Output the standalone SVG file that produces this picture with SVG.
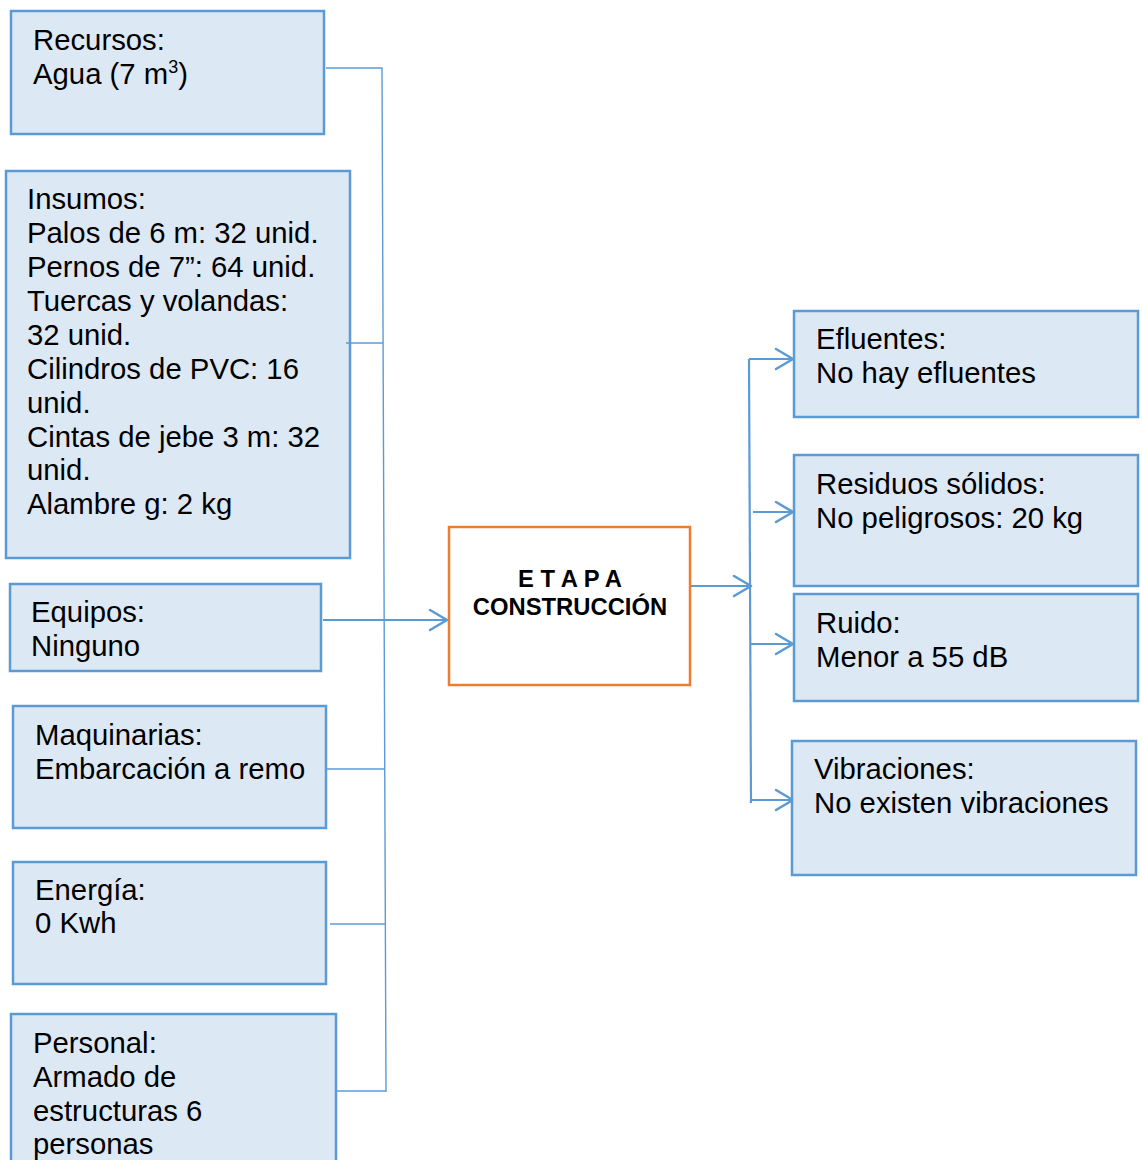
<svg xmlns="http://www.w3.org/2000/svg" width="1142" height="1160" viewBox="0 0 1142 1160">
  <style>
    .box { fill: #dde8f5; stroke: #5b9bd5; stroke-width: 2.5; }
    .stage { fill: #ffffff; stroke: #ed7d31; stroke-width: 2.5; }
    .t { font-family: "Liberation Sans", Arial, sans-serif; font-size: 29.3px; fill: #000000; }
    .tb { font-family: "Liberation Sans", Arial, sans-serif; font-size: 23.8px; font-weight: bold; fill: #000000; text-anchor: middle; }
    .thin { fill: none; stroke: #5b9bd5; stroke-width: 1.4; }
    .flow { fill: none; stroke: #5b9bd5; stroke-width: 2.2; }
    .head { fill: none; stroke: #5b9bd5; stroke-width: 2.6; stroke-linecap: round; stroke-linejoin: round; }
  </style>

  <!-- connectors -->
  <g id="connectors">
    <!-- input bracket -->
    <path class="thin" d="M326 68 H382 L386 1092"/>
    <path class="thin" d="M327 769 H385"/>
    <path class="thin" d="M330 924 H386"/>
    <path class="thin" d="M336 1091 H386"/>
    <!-- equipos to stage -->
    <path class="flow" d="M323 620 H447"/>
    <path class="head" d="M430 610 L447 620 L430 630"/>
    <!-- stage to outputs -->
    <path class="flow" d="M690 586 H750"/>
    <path class="head" d="M734 576 L751 586 L734 596"/>
    <path class="flow" d="M749 359 L751 803"/>
    <path class="flow" d="M749 359 H792"/>
    <path class="head" d="M776 349 L793 359 L776 369"/>
    <path class="flow" d="M753 512 H792"/>
    <path class="head" d="M776 502 L793 512 L776 522"/>
    <path class="flow" d="M751 644 H792"/>
    <path class="head" d="M776 634 L793 644 L776 654"/>
    <path class="flow" d="M751 800 H792"/>
    <path class="head" d="M776 790 L793 800 L776 810"/>
  </g>

  <!-- inputs -->
  <g id="recursos">
    <rect class="box" x="11" y="11" width="313" height="123"/>
    <text class="t" x="33" y="50">Recursos:</text>
    <text class="t" x="33" y="84">Agua (7 m<tspan dy="-11" font-size="18">3</tspan><tspan dy="11">)</tspan></text>
  </g>

  <g id="insumos">
    <rect class="box" x="6" y="171" width="344" height="387"/>
    <text class="t" x="27" y="209">Insumos:</text>
    <text class="t" x="27" y="243">Palos de 6 m: 32 unid.</text>
    <text class="t" x="27" y="277">Pernos de 7”: 64 unid.</text>
    <text class="t" x="27" y="311">Tuercas y volandas:</text>
    <text class="t" x="27" y="345">32 unid.</text>
    <text class="t" x="27" y="379">Cilindros de PVC: 16</text>
    <text class="t" x="27" y="413">unid.</text>
    <text class="t" x="27" y="447">Cintas de jebe 3 m: 32</text>
    <text class="t" x="27" y="480">unid.</text>
    <text class="t" x="27" y="514">Alambre g: 2 kg</text>
  </g>
  <!-- insumos tap sits over the box edge -->
  <path class="thin" d="M346 343 H383"/>

  <g id="equipos">
    <rect class="box" x="10" y="584" width="311" height="87"/>
    <text class="t" x="31" y="622">Equipos:</text>
    <text class="t" x="31" y="656">Ninguno</text>
  </g>

  <g id="maquinarias">
    <rect class="box" x="13" y="706" width="313" height="122"/>
    <text class="t" x="35" y="745">Maquinarias:</text>
    <text class="t" x="35" y="779">Embarcación a remo</text>
  </g>

  <g id="energia">
    <rect class="box" x="13" y="862" width="313" height="122"/>
    <text class="t" x="35" y="900">Energía:</text>
    <text class="t" x="35" y="933">0 Kwh</text>
  </g>

  <g id="personal">
    <rect class="box" x="11" y="1014" width="325" height="160"/>
    <text class="t" x="33" y="1053">Personal:</text>
    <text class="t" x="33" y="1087">Armado de</text>
    <text class="t" x="33" y="1121">estructuras 6</text>
    <text class="t" x="33" y="1154">personas</text>
  </g>

  <!-- stage -->
  <g id="etapa">
    <rect class="stage" x="449" y="527" width="241" height="158"/>
    <text class="tb" x="570" y="587">E T A P A</text>
    <text class="tb" x="570" y="615">CONSTRUCCIÓN</text>
  </g>

  <!-- outputs -->
  <g id="efluentes">
    <rect class="box" x="794" y="311" width="344" height="106"/>
    <text class="t" x="816" y="349">Efluentes:</text>
    <text class="t" x="816" y="383">No hay efluentes</text>
  </g>

  <g id="residuos">
    <rect class="box" x="794" y="455" width="344" height="131"/>
    <text class="t" x="816" y="494">Residuos sólidos:</text>
    <text class="t" x="816" y="528">No peligrosos: 20 kg</text>
  </g>

  <g id="ruido">
    <rect class="box" x="794" y="594" width="344" height="107"/>
    <text class="t" x="816" y="633">Ruido:</text>
    <text class="t" x="816" y="667">Menor a 55 dB</text>
  </g>

  <g id="vibraciones">
    <rect class="box" x="792" y="741" width="344" height="134"/>
    <text class="t" x="814" y="779">Vibraciones:</text>
    <text class="t" x="814" y="813">No existen vibraciones</text>
  </g>
</svg>
